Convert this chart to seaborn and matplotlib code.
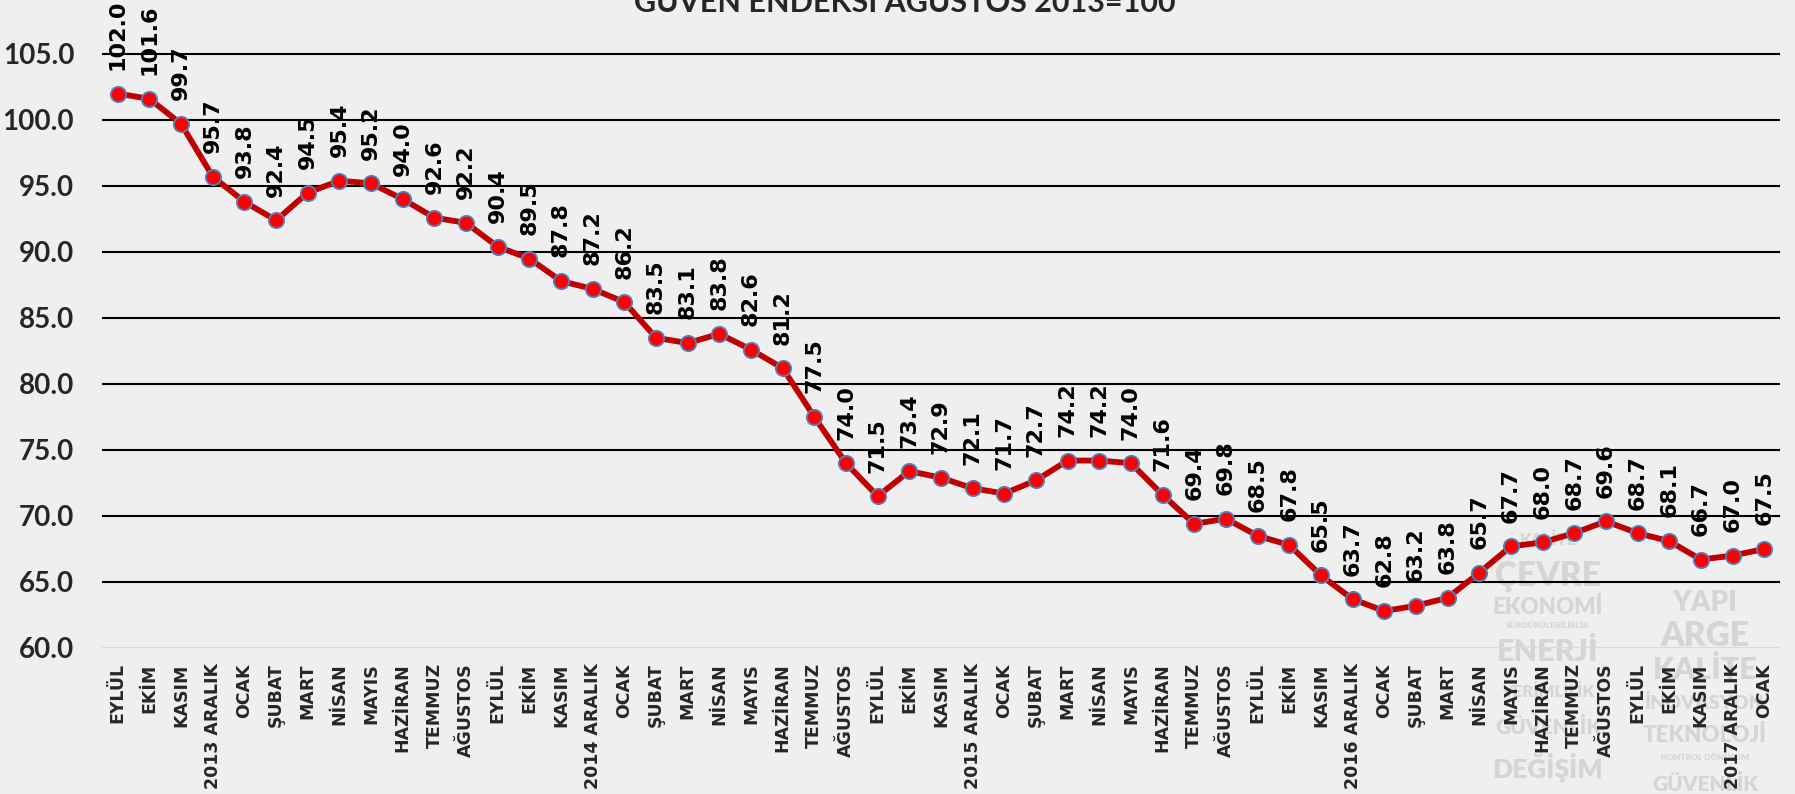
import matplotlib
matplotlib.use("Agg")
import matplotlib.pyplot as plt
import seaborn as sns
import pandas as pd

OUT_PATH = "out.png"

months = [
    "EYLÜL", "EKİM", "KASIM", "2013 ARALIK",
    "OCAK", "ŞUBAT", "MART", "NİSAN", "MAYIS", "HAZİRAN", "TEMMUZ", "AĞUSTOS",
    "EYLÜL", "EKİM", "KASIM", "2014 ARALIK",
    "OCAK", "ŞUBAT", "MART", "NİSAN", "MAYIS", "HAZİRAN", "TEMMUZ", "AĞUSTOS",
    "EYLÜL", "EKİM", "KASIM", "2015 ARALIK",
    "OCAK", "ŞUBAT", "MART", "NİSAN", "MAYIS", "HAZİRAN", "TEMMUZ", "AĞUSTOS",
    "EYLÜL", "EKİM", "KASIM", "2016 ARALIK",
    "OCAK", "ŞUBAT", "MART", "NİSAN", "MAYIS", "HAZİRAN", "TEMMUZ", "AĞUSTOS",
    "EYLÜL", "EKİM", "KASIM", "2017 ARALIK",
    "OCAK",
]
index_values = [
    102.0, 101.6, 99.7, 95.7,
    93.8, 92.4, 94.5, 95.4, 95.2, 94.0, 92.6, 92.2,
    90.4, 89.5, 87.8, 87.2,
    86.2, 83.5, 83.1, 83.8, 82.6, 81.2, 77.5, 74.0,
    71.5, 73.4, 72.9, 72.1,
    71.7, 72.7, 74.2, 74.2, 74.0, 71.6, 69.4, 69.8,
    68.5, 67.8, 65.5, 63.7,
    62.8, 63.2, 63.8, 65.7, 67.7, 68.0, 68.7, 69.6,
    68.7, 68.1, 66.7, 67.0,
    67.5,
]
y_ticks = [60, 65, 70, 75, 80, 85, 90, 95, 100, 105]
title = "GÜVEN ENDEKSİ AĞUSTOS 2013=100"

# faint logo words behind the lower right corner
wm_left_words = ["KALİTE", "ÇEVRE", "EKONOMİ", "SÜRDÜRÜLEBİLİRLİK", "ENERJİ",
                 "VERİMLİLİK", "GÜVENLİK", "DEĞİŞİM"]
wm_left_sizes = [12, 24, 16, 6, 22, 12, 15, 19]
wm_left_y = [540, 576, 607, 626, 652, 692, 727, 768]
wm_right_words = ["YAPI", "ARGE", "KALİTE", "İNOVASYON", "TEKNOLOJİ",
                  "KONTROL DÖNÜŞÜM", "GÜVENLİK"]
wm_right_sizes = [20, 24, 22, 14, 16, 6, 15]
wm_right_y = [603, 636, 670, 703, 735, 757, 784]

BG = "#efefef"


def main():
    sns.set_style("white")
    plt.rcParams["font.family"] = ["DejaVu Sans"]

    df = pd.DataFrame({"pos": range(len(index_values)), "value": index_values})

    fig = plt.figure(figsize=(17.95, 7.94), dpi=100, facecolor=BG)
    W, H = 1795, 794
    left, right, bottom_px, top_px = 102, 1780, 648, -12
    ax = fig.add_axes([left / W, 1 - bottom_px / H,
                       (right - left) / W, (bottom_px - top_px) / H])
    ax.set_zorder(1)
    ax.patch.set_visible(False)

    for word, size, y in zip(wm_left_words, wm_left_sizes, wm_left_y):
        fig.text(1548 / W, 1 - y / H, word, ha="center", va="center",
                 family=["Lato", "DejaVu Sans"], fontsize=size, fontweight="heavy",
                 color="#d5d5d5", zorder=0.5)
    for word, size, y in zip(wm_right_words, wm_right_sizes, wm_right_y):
        fig.text(1705 / W, 1 - y / H, word, ha="center", va="center",
                 family=["Lato", "DejaVu Sans"], fontsize=size, fontweight="heavy",
                 color="#d5d5d5", zorder=0.5)

    sns.lineplot(data=df, x="pos", y="value", ax=ax, color="#c00000", linewidth=4.2,
                 marker="o", markersize=11, markerfacecolor="#ff0000",
                 markeredgecolor="#4f81bd", markeredgewidth=1.3, zorder=5)

    for i, v in enumerate(index_values):
        ax.annotate(f"{v:.1f}", (i, v), xytext=(0, 17), textcoords="offset points",
                    rotation=90, ha="center", va="bottom", fontsize=16,
                    fontweight="bold", color="black", zorder=6)

    ax.set_xlim(-0.5, len(index_values) - 0.5)
    ax.set_ylim(60, 110)
    ax.set_yticks(y_ticks)
    ax.set_yticklabels([f"{t:.1f}" for t in y_ticks], family=["Lato", "DejaVu Sans"],
                       fontsize=20, fontweight="bold")
    ax.set_xticks(range(len(months)))
    ax.set_xticklabels(months, rotation=90, fontsize=12.5, fontweight="bold")
    ax.tick_params(axis="both", length=0)
    ax.tick_params(axis="y", pad=20)
    ax.tick_params(axis="x", pad=11)

    for t in y_ticks[1:]:
        ax.axhline(t, color="black", linewidth=1.5, zorder=1)
    ax.axhline(60, color="#d9d9d9", linewidth=1.5, zorder=1)
    for s in ax.spines.values():
        s.set_visible(False)
    ax.set_xlabel("")
    ax.set_ylabel("")

    fig.text(905 / W, 1 - 12 / H, title, ha="center", va="baseline",
             family=["Lato", "DejaVu Sans"], fontsize=22, fontweight="bold")

    fig.savefig(OUT_PATH, dpi=100, facecolor=BG)
    plt.close(fig)


if __name__ == "__main__":
    main()
